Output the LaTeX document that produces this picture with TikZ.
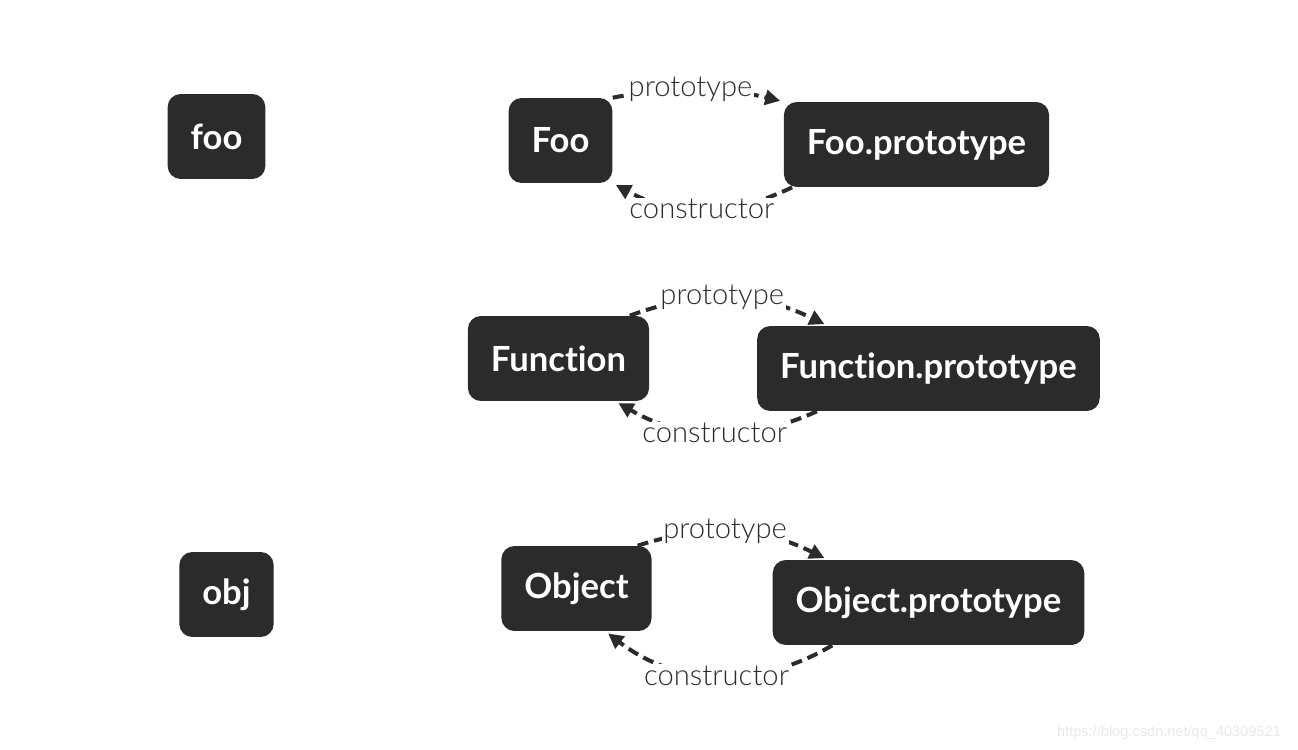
\documentclass[tikz,border=0pt]{standalone}
\usepackage{fontspec}
\setmainfont{Lato}[RawFeature=-liga]
\newfontfamily\lightfont{Lato Light}
\newfontfamily\wmfont{Liberation Sans}
\usetikzlibrary{arrows.meta}
\definecolor{boxgray}{HTML}{2B2B2B}
\definecolor{wmgray}{HTML}{E8E8E8}
\begin{document}
\begin{tikzpicture}[x=0.02cm,y=0.02cm,
cell/.style={fill=boxgray,text=white,rounded corners=0.26cm,minimum height=1.7cm,inner xsep=0.46cm,font=\bfseries\fontsize{19.7}{23}\selectfont},
link/.style={draw=boxgray,line width=0.08cm,dash pattern=on 0.22cm off 0.12cm,-{Triangle[length=0.3cm,width=0.3cm]},shorten >=2pt},
lbl/.style={fill=white,text=boxgray,inner sep=1pt,font=\lightfont\fontsize{16.6}{19}\selectfont}]
\useasboundingbox (0,0) rectangle (1298,-750);
\node[cell] (foo) at (216.5,-136.5) {foo};
\node[cell] (obj) at (226.5,-594.5) {obj};
\node[cell] (Foo) at (560.5,-140.5) {Foo};
\node[cell] (fooproto) at (916.5,-144.5) {Foo.prototype};
\node[cell] (Fn) at (558.5,-358.5) {Function};
\node[cell] (fnproto) at (928.5,-368.5) {Function.prototype};
\node[cell] (Obj) at (576.5,-588.5) {Object};
\node[cell] (objproto) at (928.5,-602.5) {Object.prototype};
\draw[link] (Foo.north east) to[bend left=12] node[lbl,pos=0.45] {prototype} (fooproto.north west);
\draw[link] (fooproto.199) to[bend left=27] node[lbl] {constructor} (Foo.south east);
\draw[link] (Fn.31) to[bend left=23] node[lbl,pos=0.46] {prototype} (fnproto.157);
\draw[link] (fnproto.201) to[bend left=27] node[lbl] {constructor} (Fn.-37);
\draw[link] (Obj.35) to[bend left=22] node[lbl,pos=0.45] {prototype} (objproto.157);
\draw[link] (objproto.204) to[bend left=34] node[lbl] {constructor} (Obj.-56);
\node[text=wmgray,font=\wmfont\fontsize{8.3}{10}\selectfont] (wm) at (1169,-733) {https://blog.csdn.net/qq\_40309521};
\end{tikzpicture}
\end{document}
